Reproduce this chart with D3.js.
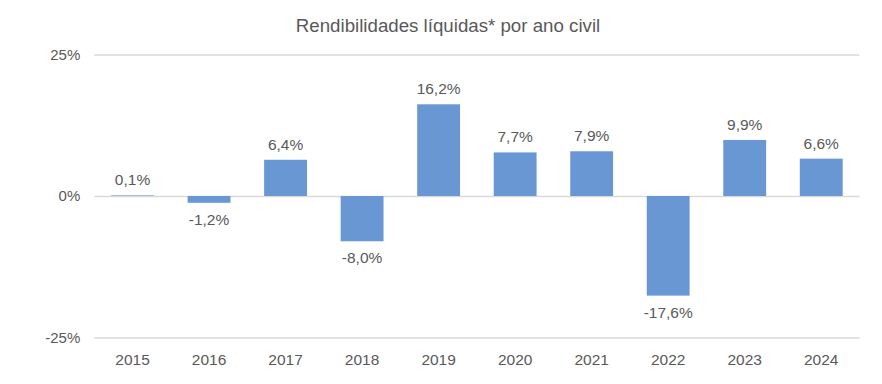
<!DOCTYPE html>
<html lang="pt">
<head>
<meta charset="UTF-8">
<title>Rendibilidades líquidas por ano civil</title>
<script src="https://cdn.jsdelivr.net/npm/d3@7"></script>
<style>
    body { margin: 0; background: #fff; }
    text { font-family: "Liberation Sans", Arial, sans-serif; fill: #595959; }
</style>
</head>
<body>
<svg id="chart" width="882" height="384"></svg>
<script>
// chart data
const years = ["2015", "2016", "2017", "2018", "2019", "2020", "2021", "2022", "2023", "2024"];
const returns = [0.1, -1.2, 6.4, -8.0, 16.2, 7.7, 7.9, -17.6, 9.9, 6.6];
const yTicks = [-25, 0, 25];

const margin = { top: 54.5, right: 22.5, bottom: 46.5, left: 94.25 };
const width = 882 - margin.left - margin.right;
const height = 384 - margin.top - margin.bottom;

const svg = d3.select("#chart");

svg.append("text")
    .attr("x", 448)
    .attr("y", 32)
    .attr("text-anchor", "middle")
    .style("font-size", "18.7px")
    .text("Rendibilidades líquidas* por ano civil");

const g = svg.append("g")
    .attr("transform", `translate(${margin.left},${margin.top})`);

const x = d3.scaleBand()
    .domain(years)
    .range([0, width])
    .paddingInner(0.44)
    .paddingOuter(0.22);

const y = d3.scaleLinear()
    .domain([-25, 25])
    .range([height, 0]);

// gridlines + y labels
const yAxis = g.append("g")
    .call(d3.axisLeft(y)
        .tickValues(yTicks)
        .tickSize(-width)
        .tickPadding(14)
        .tickFormat(d => d + "%"));
yAxis.select(".domain").remove();
yAxis.selectAll("line").attr("stroke", "#d9d9d9").attr("stroke-width", 1.3);
yAxis.selectAll("text").style("font-size", "15px").attr("fill", "#595959");

// bars
g.selectAll(".bar")
    .data(returns)
    .enter()
    .append("rect")
    .attr("class", "bar")
    .attr("x", (d, i) => x(years[i]))
    .attr("y", d => y(Math.max(d, 0)))
    .attr("width", x.bandwidth())
    .attr("height", d => Math.abs(y(d) - y(0)))
    .attr("fill", "#6897d3");

// value labels
g.selectAll(".val")
    .data(returns)
    .enter()
    .append("text")
    .attr("class", "val")
    .attr("x", (d, i) => x(years[i]) + x.bandwidth() / 2)
    .attr("y", d => d >= 0 ? y(d) - 10 : y(d) + 22)
    .attr("text-anchor", "middle")
    .style("font-size", "15.5px")
    .text(d => d.toFixed(1).replace(".", ",") + "%");

// x labels
const xAxis = g.append("g")
    .attr("transform", `translate(0,${height})`)
    .call(d3.axisBottom(x).tickSize(0).tickPadding(16));
xAxis.select(".domain").remove();
xAxis.selectAll("text").style("font-size", "15.5px").attr("fill", "#595959");
</script>
</body>
</html>
